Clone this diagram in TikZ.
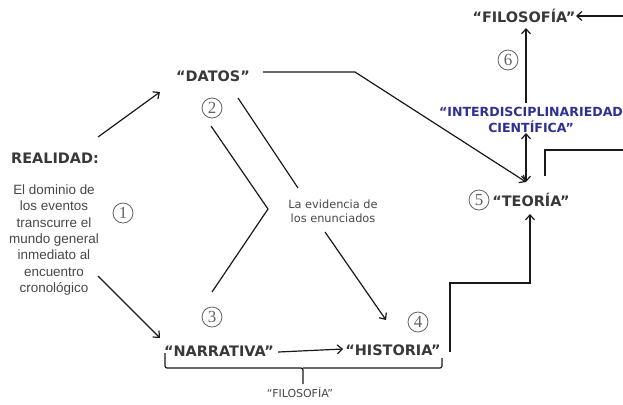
\documentclass[tikz,border=0pt]{standalone}
\usepackage{fontspec}
\setmainfont{DejaVu Sans}
\newfontfamily\arialfont{Liberation Sans}
\newfontfamily\numfont{Liberation Serif}
\usetikzlibrary{arrows.meta,positioning}

\begin{document}
\begin{tikzpicture}[x=1bp, y=-1bp,
    lbl/.style={font=\fontsize{14.5}{16}\selectfont\bfseries, text=black!78, inner sep=0pt},
    num/.style={circle, draw=black!62, line width=0.8bp, minimum size=20bp, inner sep=0pt,
        font=\numfont\fontsize{17}{17}\selectfont, text=black!62},
    note/.style={font=\fontsize{11.4}{14.5}\selectfont, text=black!72, align=center, inner sep=0pt},
    link/.style={line width=1.2bp, black!90},
    arr/.style={link, -{Straight Barb[length=5bp,width=9bp]}},
    darr/.style={link, {Straight Barb[length=5bp,width=9bp]}-{Straight Barb[length=5bp,width=9bp]}}]
    \useasboundingbox (0,0) rectangle (623,404);

    % Realidad
    \node[lbl] (realidad) at (55,158) {REALIDAD:};
    \node[note, font=\arialfont\fontsize{13.5}{16.4}\selectfont] (dominio) at (54,240)
        {El dominio de\\los eventos\\transcurre el\\mundo general\\inmediato al\\encuentro\\cronológico};

    % Nodes
    \node[lbl] (datos) at (213,76) {“DATOS”};
    \node[note] (evid) at (333,211) {La evidencia de\\los enunciados};
    \node[lbl] (narr) at (219,351) {“NARRATIVA”};
    \node[lbl] (hist) at (393,350) {“HISTORIA”};
    \node[lbl] (teoria) at (531,200) {“TEORÍA”};
    \node[lbl, font=\fontsize{12.6}{16}\selectfont\bfseries, text={rgb,255:red,46;green,49;blue,146}, align=center] (inter) at (531,120)
        {“INTERDISCIPLINARIEDAD\\CIENTÍFICA”};
    \node[lbl] (filo) at (524,16) {“FILOSOFÍA”};
    \node[note, font=\fontsize{11}{13}\selectfont] (filob) at (300,392) {“FILOSOFÍA”};

    % Numbers
    \foreach \n/\x/\y in {1/123/213, 2/212/108, 3/212/317, 4/418/322, 5/479/200, 6/508/60}
        \node[num] (n\n) at (\x,\y) {\n};

    % Free ends
    \coordinate (r1) at (98,137);  \coordinate (r2) at (160,92);
    \coordinate (d1) at (98,276);  \coordinate (d2) at (160,338);
    \coordinate (a1) at (263,72);  \coordinate (a2) at (355,72);
    \coordinate (b1) at (238,98);  \coordinate (b2) at (298,188);
    \coordinate (c1) at (211,126); \coordinate (c2) at (268,209); \coordinate (c3) at (212,292);
    \coordinate (e1) at (325,232); \coordinate (e2) at (386,320);
    \coordinate (h1) at (450,352); \coordinate (h2) at (530,283); \coordinate (h3) at (530,214);
    \coordinate (t1) at (526,182); \coordinate (t2) at (526,133);
    \coordinate (f1) at (526,103); \coordinate (f2) at (526,28);
    \coordinate (g1) at (623,16);  \coordinate (g2) at (576,16);
    \coordinate (s1) at (545,176); \coordinate (s2) at (623,150);
    \coordinate (k1) at (165,353); \coordinate (k2) at (303,368); \coordinate (k3) at (303,384); \coordinate (k4) at (442,358);

    % Connections
    \draw[arr] (r1) -- (r2);
    \draw[arr] (d1) -- (d2);
    \draw[arr] (a1) -- (a2) -- (t1);
    \draw[link] (b1) -- (b2);
    \draw[link] (c1) -- (c2) -- (c3);
    \draw[arr] (e1) -- (e2);
    \draw[arr] (narr.east) ++(4,1) -- ([xshift=-2bp,yshift=1bp]hist.west);
    \draw[arr] (h1) |- (h2) -- (h3);
    \draw[darr] (t1) -- (t2);
    \draw[arr] (f1) -- (f2);
    \draw[arr] (g1) -- (g2);
    \draw[link] (s1) |- (s2);

    % Brace
    \draw[link, rounded corners=2bp] (k1) |- (k2) -- (k3);
    \draw[link, rounded corners=2bp] (k2) -| (k4);
\end{tikzpicture}
\end{document}
